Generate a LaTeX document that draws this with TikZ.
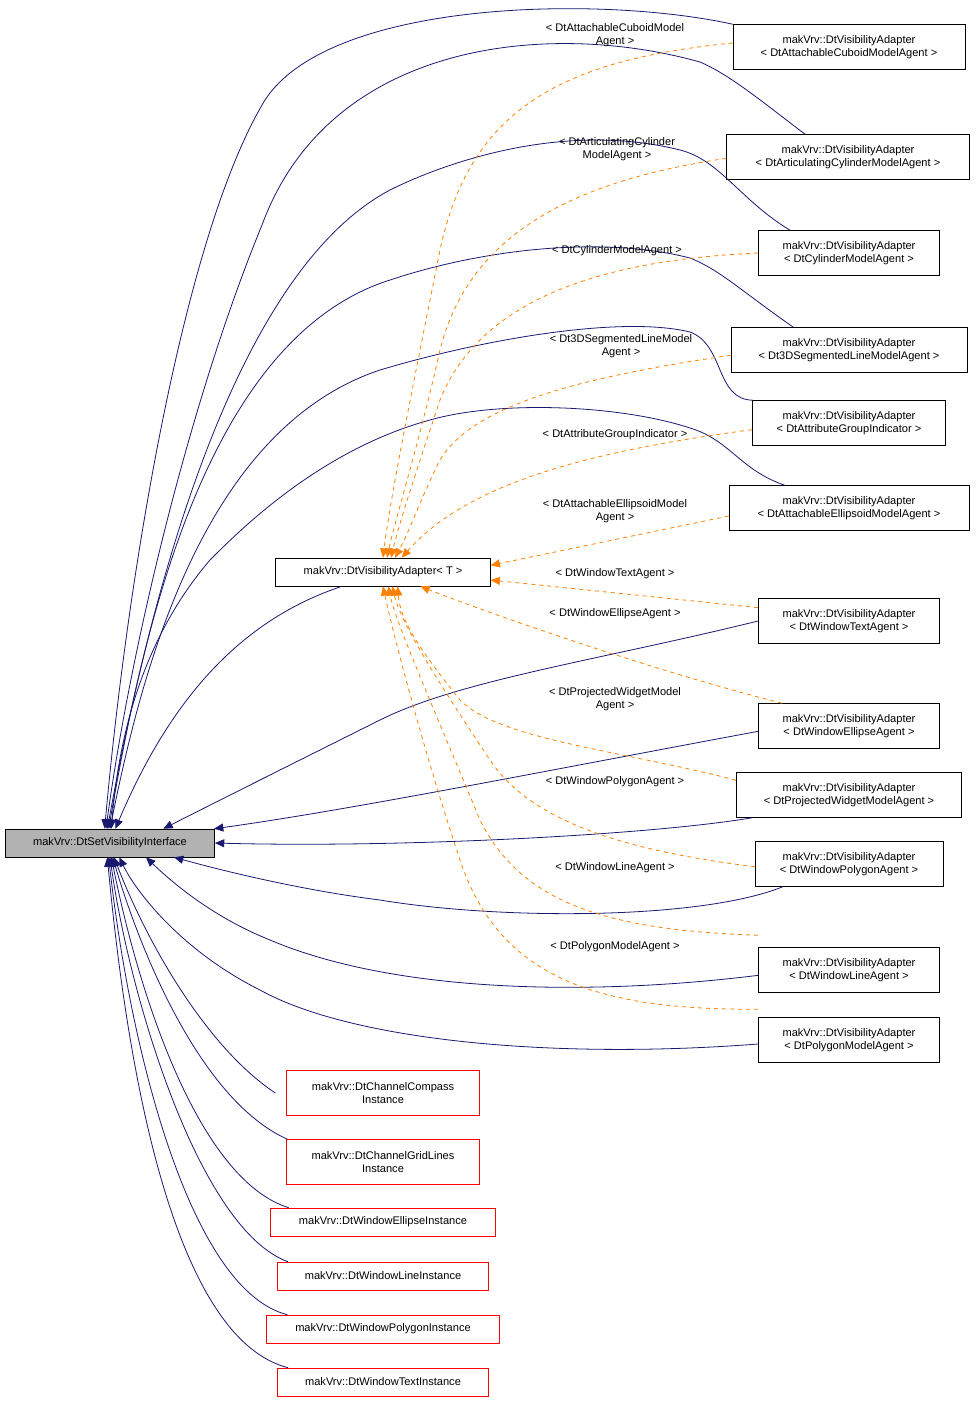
\documentclass[tikz,border=0pt]{standalone}
\usepackage{fontspec}
\setmainfont{Liberation Sans}
\usetikzlibrary{arrows.meta}
\begin{document}
\begin{tikzpicture}[x=0.75pt,y=-0.75pt,
  font=\fontsize{8.3}{10}\selectfont,
  box/.style={draw=black,fill=white,inner sep=1pt,align=center,minimum height=33.75pt},
  onebox/.style={draw=black,fill=white,inner sep=1pt,align=center,minimum height=21pt},
  redbox/.style={draw=red,fill=white,inner sep=1pt,align=center},
  inh/.style={draw={rgb,255:red,25;green,25;blue,112},line width=0.6pt,-{Triangle[length=7pt,width=6pt]}},
  tpl/.style={draw=orange,dashed,line width=0.6pt,-{Triangle[length=7pt,width=6pt]}},
  lab/.style={align=center,inner sep=0pt}]
\useasboundingbox (0,0) rectangle (976,1404);
% base and template
\node[onebox,fill=gray!60,minimum width=157pt] (base) at (110,843) {makVrv::DtSetVisibilityInterface};
\node[onebox,minimum width=161pt] (T) at (383,572) {makVrv::DtVisibilityAdapter< T >};
% right nodes
\node[box,minimum width=174pt] (r1) at (849,47) {makVrv::DtVisibilityAdapter\\< DtAttachableCuboidModelAgent >};
\node[box,minimum width=182pt] (r2) at (848,157) {makVrv::DtVisibilityAdapter\\< DtArticulatingCylinderModelAgent >};
\node[box,minimum width=136pt] (r3) at (849,253) {makVrv::DtVisibilityAdapter\\< DtCylinderModelAgent >};
\node[box,minimum width=177pt] (r4) at (849,350) {makVrv::DtVisibilityAdapter\\< Dt3DSegmentedLineModelAgent >};
\node[box,minimum width=145pt] (r5) at (849,423) {makVrv::DtVisibilityAdapter\\< DtAttributeGroupIndicator >};
\node[box,minimum width=180pt] (r6) at (849,508) {makVrv::DtVisibilityAdapter\\< DtAttachableEllipsoidModelAgent >};
\node[box,minimum width=136pt] (r7) at (849,621) {makVrv::DtVisibilityAdapter\\< DtWindowTextAgent >};
\node[box,minimum width=136pt] (r8) at (849,726) {makVrv::DtVisibilityAdapter\\< DtWindowEllipseAgent >};
\node[box,minimum width=169pt] (r9) at (849,795) {makVrv::DtVisibilityAdapter\\< DtProjectedWidgetModelAgent >};
\node[box,minimum width=141pt] (r10) at (849,864) {makVrv::DtVisibilityAdapter\\< DtWindowPolygonAgent >};
\node[box,minimum width=136pt] (r11) at (849,970) {makVrv::DtVisibilityAdapter\\< DtWindowLineAgent >};
\node[box,minimum width=136pt] (r12) at (849,1040) {makVrv::DtVisibilityAdapter\\< DtPolygonModelAgent >};
% red nodes
\node[redbox,minimum width=145pt,minimum height=33.75pt] (k1) at (383,1093) {makVrv::DtChannelCompass\\Instance};
\node[redbox,minimum width=145pt,minimum height=33.75pt] (k2) at (383,1162) {makVrv::DtChannelGridLines\\Instance};
\node[redbox,minimum width=169pt,minimum height=21pt] (k3) at (383,1222) {makVrv::DtWindowEllipseInstance};
\node[redbox,minimum width=158pt,minimum height=21pt] (k4) at (383,1276) {makVrv::DtWindowLineInstance};
\node[redbox,minimum width=175pt,minimum height=21pt] (k5) at (383,1329) {makVrv::DtWindowPolygonInstance};
\node[redbox,minimum width=158pt,minimum height=21pt] (k6) at (383,1382) {makVrv::DtWindowTextInstance};
% inheritance edges (navy)
\path[inh] (r1.north west) .. controls (600,-5) and (330,0) .. (265,100) .. controls (180,240) and (125,600) .. ([xshift=-4pt]base.north);
\path[inh] ([xshift=59pt]r2.north west) .. controls (760,100) and (730,75) .. (700,62) .. controls (550,20) and (330,40) .. (262,225) .. controls (190,400) and (130,650) .. ([xshift=-3pt]base.north);
\path[inh] ([xshift=24pt]r3.north west) .. controls (740,200) and (720,160) .. (680,150) .. controls (560,120) and (440,165) .. (390,190) .. controls (220,280) and (140,650) .. ([xshift=-2pt]base.north);
\path[inh] ([xshift=47pt]r4.north west) .. controls (740,290) and (720,270) .. (690,258) .. controls (600,235) and (480,250) .. (390,280) .. controls (200,340) and (140,650) .. ([xshift=-1pt]base.north);
\path[inh] ([xshift=1pt]r5.north west) .. controls (715,400) and (725,345) .. (690,332) .. controls (620,315) and (480,340) .. (380,370) .. controls (200,430) and (140,680) .. (base.north);
\path[inh] ([xshift=42pt]r6.north west) .. controls (740,470) and (730,440) .. (690,428) .. controls (620,405) and (500,400) .. (430,420) .. controls (320,450) and (240,530) .. (210,560) .. controls (150,630) and (120,720) .. ([xshift=1pt]base.north);
\path[inh] (r7.west) .. controls (600,660) and (460,680) .. (380,720) .. controls (300,760) and (220,800) .. ([xshift=40pt]base.north);
\path[inh] ([yshift=-4pt]r8.west) .. controls (550,770) and (350,810) .. ([xshift=78pt]base.north);
\path[inh] ([xshift=12pt]r9.south west) .. controls (650,835) and (400,848) .. (base.east);
\path[inh] ([xshift=21pt]r10.south west) .. controls (700,920) and (500,920) .. (380,900) .. controls (300,890) and (220,870) .. ([xshift=48pt]base.south);
\path[inh] ([yshift=-4pt]r11.west) .. controls (600,995) and (400,995) .. (270,940) .. controls (220,920) and (180,890) .. ([xshift=27pt]base.south);
\path[inh] ([yshift=-3pt]r12.west) .. controls (550,1060) and (350,1040) .. (260,990) .. controls (180,950) and (135,890) .. ([xshift=7pt]base.south);
\path[inh] ([xshift=50pt]T.south west) .. controls (240,620) and (170,700) .. ([xshift=4pt]base.north);
\path[inh] ([xshift=-8pt]k1.west) .. controls (210,1050) and (150,950) .. ([xshift=3pt]base.south);
\path[inh] ([xshift=1pt]k2.north west) .. controls (200,1100) and (140,950) .. ([xshift=2pt]base.south);
\path[inh] ([xshift=14pt]k3.north west) .. controls (200,1180) and (140,1000) .. ([xshift=1pt]base.south);
\path[inh] ([xshift=8pt]k4.north west) .. controls (200,1230) and (130,1000) .. (base.south);
\path[inh] ([xshift=16pt]k5.north west) .. controls (190,1290) and (130,1050) .. ([xshift=-1pt]base.south);
\path[inh] ([xshift=8pt]k6.north west) .. controls (180,1340) and (130,1100) .. ([xshift=-2pt]base.south);
% template edges (orange dashed)
\path[tpl] ([yshift=3pt]r1.west) .. controls (560,60) and (470,110) .. (440,250) .. controls (410,400) and (390,500) .. ([xshift=0pt]T.north);
\path[tpl] ([yshift=-1pt]r2.west) .. controls (580,180) and (470,230) .. (440,350) .. controls (420,440) and (395,520) .. ([xshift=3pt]T.north);
\path[tpl] (r3.west) .. controls (600,260) and (480,300) .. (440,400) .. controls (420,460) and (400,520) .. ([xshift=6pt]T.north);
\path[tpl] ([yshift=-4pt]r4.west) .. controls (560,380) and (470,410) .. (440,460) .. controls (420,500) and (410,530) .. ([xshift=9pt]T.north);
\path[tpl] ([yshift=-5pt]r5.west) .. controls (600,450) and (470,480) .. ([xshift=14pt]T.north);
\path[tpl] ([yshift=-6pt]r6.west) -- ([yshift=5pt]T.east);
\path[tpl] ([yshift=10pt]r7.west) -- ([yshift=-6pt]T.east);
\path[tpl] ([xshift=18pt]r8.north west) .. controls (650,670) and (480,610) .. ([xshift=28pt]T.south);
\path[tpl] ([yshift=-6pt]r9.north west) .. controls (620,750) and (500,740) .. (460,700) .. controls (420,650) and (400,620) .. ([xshift=11pt]T.south);
\path[tpl] ([yshift=-2pt]r10.west) .. controls (620,850) and (530,820) .. (490,760) .. controls (430,670) and (400,620) .. ([xshift=7pt]T.south);
\path[tpl] ([yshift=9pt]r11.north west) .. controls (600,930) and (520,900) .. (480,820) .. controls (430,700) and (395,620) .. ([xshift=4pt]T.south);
\path[tpl] ([yshift=6pt]r12.north west) .. controls (600,1010) and (500,980) .. (460,860) .. controls (420,740) and (390,620) .. ([xshift=0pt]T.south);
% labels
\node[lab] (l1) at (615,35) {< DtAttachableCuboidModel\\Agent >};
\node[lab] (l2) at (617,149) {< DtArticulatingCylinder\\ModelAgent >};
\node[lab] (l3) at (617,251) {< DtCylinderModelAgent >};
\node[lab] (l4) at (621,346) {< Dt3DSegmentedLineModel\\Agent >};
\node[lab] (l5) at (615,435) {< DtAttributeGroupIndicator >};
\node[lab] (l6) at (615,511) {< DtAttachableEllipsoidModel\\Agent >};
\node[lab] (l7) at (615,574) {< DtWindowTextAgent >};
\node[lab] (l8) at (615,614) {< DtWindowEllipseAgent >};
\node[lab] (l9) at (615,699) {< DtProjectedWidgetModel\\Agent >};
\node[lab] (l10) at (615,782) {< DtWindowPolygonAgent >};
\node[lab] (l11) at (615,868) {< DtWindowLineAgent >};
\node[lab] (l12) at (615,947) {< DtPolygonModelAgent >};
\end{tikzpicture}
\end{document}
